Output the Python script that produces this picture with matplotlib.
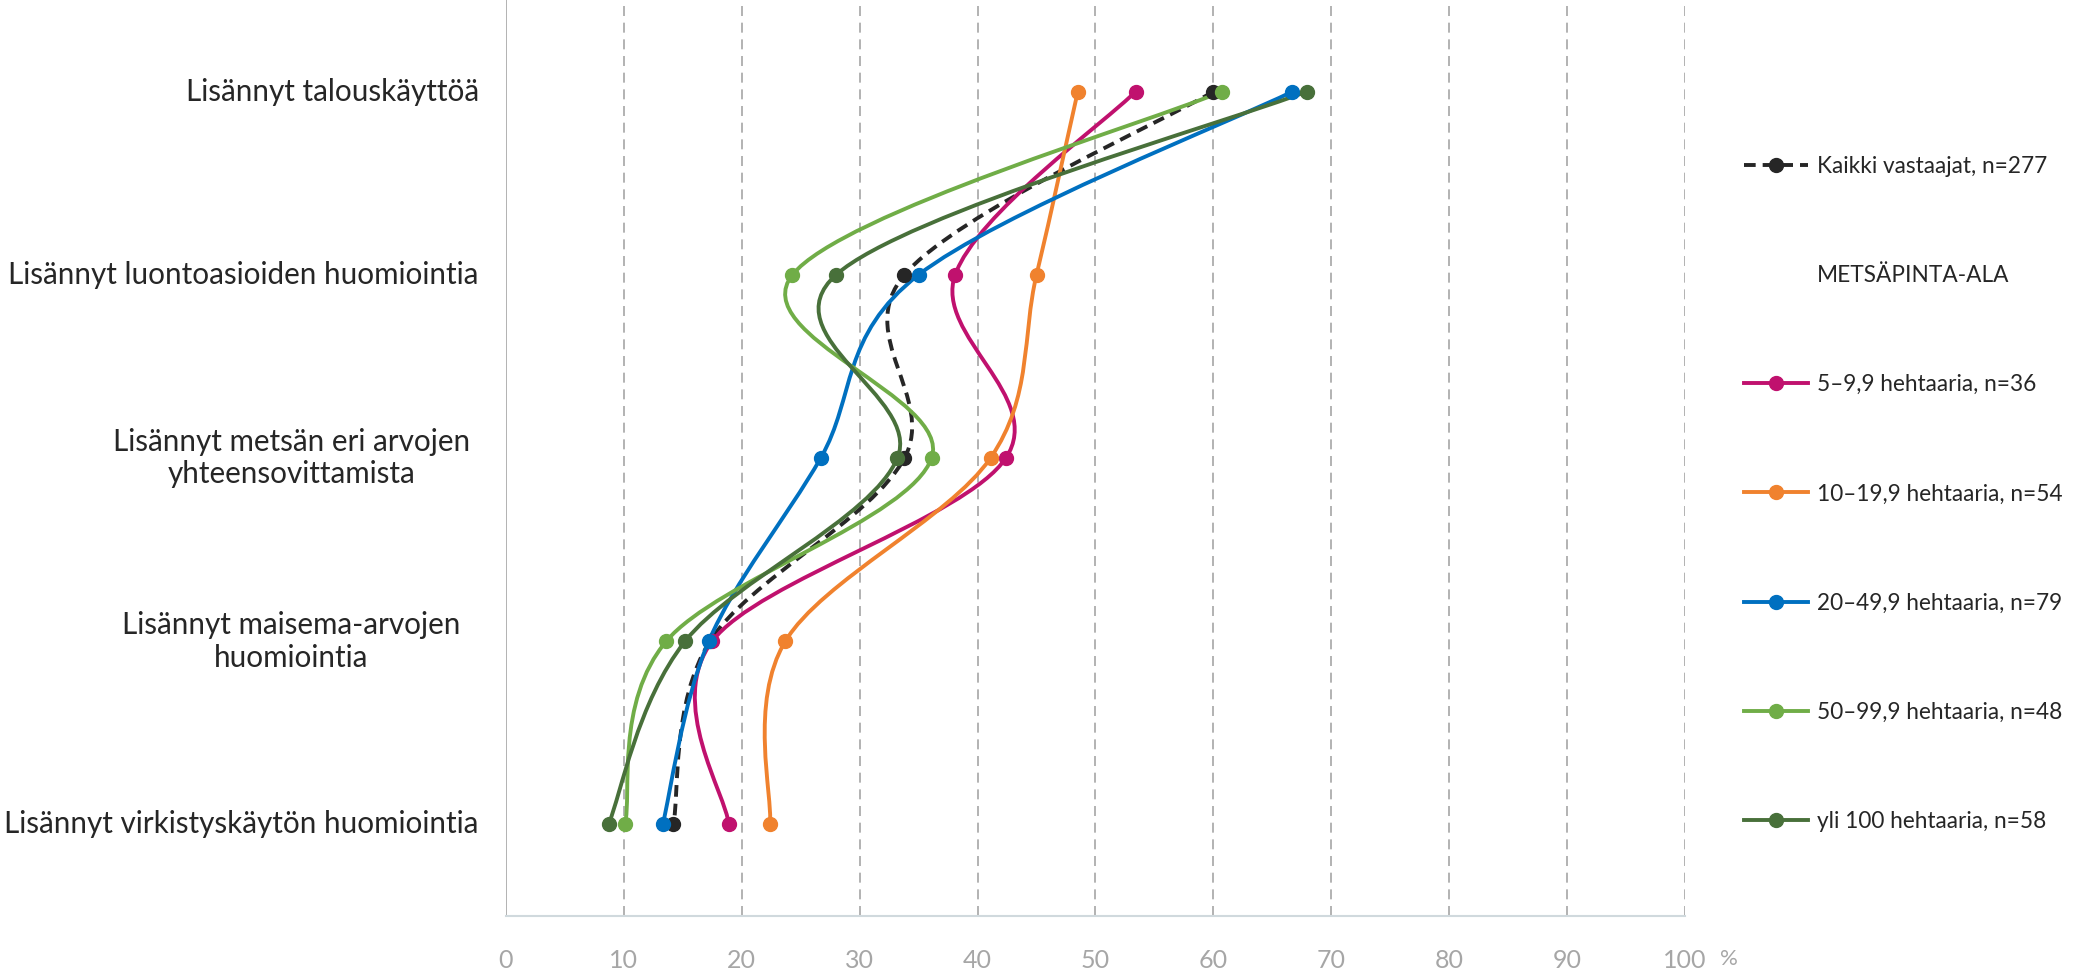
import matplotlib
matplotlib.use('Agg')
from matplotlib import pyplot as plt
from matplotlib.path import Path
from matplotlib.patches import PathPatch
from matplotlib.lines import Line2D
import matplotlib.transforms as mtransforms
import numpy as np

plt.rcParams['font.family'] = ['Lato', 'DejaVu Sans']

# categories, top to bottom
categories = ["Lisännyt talouskäyttöä",
              "Lisännyt luontoasioiden huomiointia",
              "Lisännyt metsän eri arvojen\nyhteensovittamista",
              "Lisännyt maisema-arvojen\nhuomiointia",
              "Lisännyt virkistyskäytön huomiointia"]

# percent values per series (same order as categories)
kaikki = [60.0, 33.8, 33.8, 17.3, 14.2]
ha_5_10 = [53.4, 38.1, 42.4, 17.5, 18.9]
ha_10_20 = [48.5, 45.0, 41.1, 23.7, 22.4]
ha_20_50 = [66.7, 35.0, 26.7, 17.2, 13.3]
ha_50_100 = [60.7, 24.3, 36.1, 13.6, 10.1]
ha_100 = [67.9, 28.0, 33.2, 15.2, 8.7]

labels = ["Kaikki vastaajat, n=277",
          "5–9,9 hehtaaria, n=36",
          "10–19,9 hehtaaria, n=54",
          "20–49,9 hehtaaria, n=79",
          "50–99,9 hehtaaria, n=48",
          "yli 100 hehtaaria, n=58"]
legend_heading = "METSÄPINTA-ALA"

xticks = [0, 10, 20, 30, 40, 50, 60, 70, 80, 90, 100]

series = [kaikki, ha_5_10, ha_10_20, ha_20_50, ha_50_100, ha_100]
colors = ['#262626', '#c0116e', '#f0822e', '#0070c0', '#70ad47', '#48703a']
styles = [(0, (3, 1.8)), '-', '-', '-', '-', '-']

ypos = np.arange(len(categories))[::-1] + 0.5


def smooth_path(xs, ys):
    # Catmull-Rom style bezier, like Excel's smoothed line
    pts = np.column_stack([xs, ys])
    n = len(pts)
    verts = [pts[0]]
    codes = [Path.MOVETO]
    for i in range(n - 1):
        p0 = pts[max(i - 1, 0)]
        p1 = pts[i]
        p2 = pts[i + 1]
        p3 = pts[min(i + 2, n - 1)]
        c1 = p1 + (p2 - p0) / 6.0
        c2 = p2 - (p3 - p1) / 6.0
        verts += [c1, c2, p2]
        codes += [Path.CURVE4] * 3
    return Path(verts, codes)


fig = plt.figure(figsize=(20.88, 9.72), dpi=100)
ax = fig.add_axes([0.2423, 0.0576, 0.5647, 0.9424])

lw = 2.8
ms = 10
for vals, c, ls in zip(series, colors, styles):
    patch = PathPatch(smooth_path(vals, ypos), fill=False, edgecolor=c,
                      linewidth=lw, linestyle=ls, capstyle='butt', zorder=3)
    ax.add_patch(patch)
    ax.plot(vals, ypos, linestyle='none', marker='o', markersize=ms,
            color=c, zorder=4)

ax.set_xlim(0, 100)
ax.set_ylim(0, len(categories))
ax.set_xticks(xticks)
ax.set_xticklabels([str(t) for t in xticks])
ax.tick_params(axis='x', length=0, pad=24, labelsize=18, labelcolor='#a6a6a6')
ax.set_yticks([])
for sp in ['top', 'right', 'left']:
    ax.spines[sp].set_visible(False)
ax.spines['bottom'].set_color('#d0d9dd')
ax.spines['bottom'].set_linewidth(1.5)

# vertical gridlines
for t in xticks:
    if t == 0:
        ax.axvline(t, color='#a6a6a6', linewidth=1.2, zorder=1)
    else:
        ax.axvline(t, color='#a6a6a6', linewidth=1.2, linestyle=(0, (6, 4)), zorder=1)

# category labels
trans = mtransforms.blended_transform_factory(ax.transAxes, ax.transData)
for lab, y in zip(categories, ypos):
    if '\n' in lab:
        ax.text(-0.182, y, lab, transform=trans, ha='center', va='center',
                multialignment='center', fontsize=21.3, color='#262626', linespacing=1.2)
    else:
        ax.text(-0.023, y, lab, transform=trans, ha='right', va='center',
                fontsize=21.3, color='#262626')

ax.text(1.037, -0.047, '%', transform=ax.transAxes, ha='center', va='center',
        fontsize=16, color='#a6a6a6')

# legend
handles = [Line2D([], [], color=colors[0], linestyle=styles[0], linewidth=lw,
                  marker='o', markersize=ms)]
handles.append(Line2D([], [], color='none'))
for c, ls in zip(colors[1:], styles[1:]):
    handles.append(Line2D([], [], color=c, linestyle=ls, linewidth=lw,
                          marker='o', markersize=ms))
leg_labels = [labels[0], legend_heading] + labels[1:]
fig.legend(handles, leg_labels, loc='upper left', bbox_to_anchor=(0.8354, 0.840),
           frameon=False, fontsize=16.3, labelspacing=3.9, handlelength=2.8,
           handletextpad=0.4, borderpad=0, borderaxespad=0, labelcolor='#262626')

plt.savefig('out.png', dpi=100)
plt.close()
